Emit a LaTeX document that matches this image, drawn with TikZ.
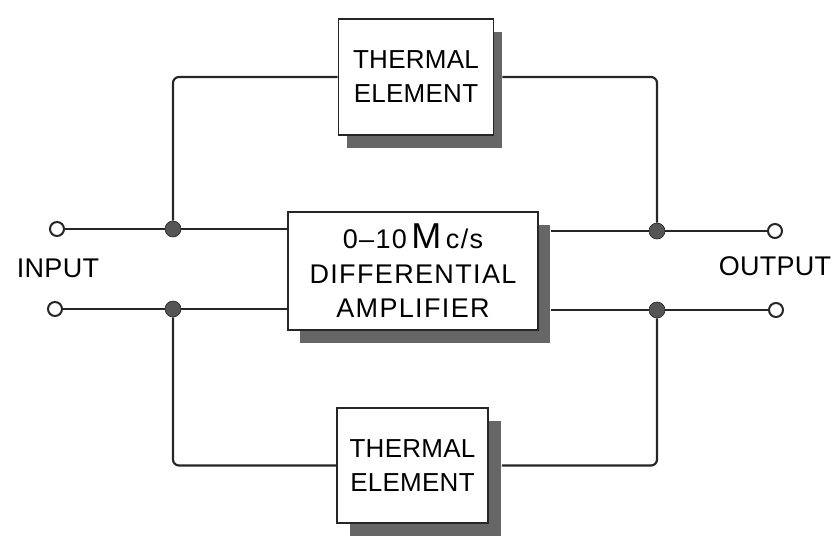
\documentclass[tikz,border=0pt]{standalone}
\usepackage{xcolor}
\usepackage{fontspec}
\setmainfont{Liberation Sans}
\usetikzlibrary{shadows}
\definecolor{WireInk}{HTML}{262626}
\definecolor{ShadeGrey}{HTML}{666666}
\definecolor{DotGrey}{HTML}{555555}
\tikzset{
  blockbox/.style={
    draw=WireInk,
    fill=white,
    line width=1.6pt,
    align=center,
    inner sep=0pt,
    font=\fontsize{26}{34}\selectfont\addfontfeature{LetterSpace=1},
    drop shadow={shadow xshift=#1,shadow yshift=-13pt,fill=ShadeGrey,opacity=1}
  },
  blockbox/.default=12pt,
  terminal/.style={circle,draw=WireInk,fill=white,line width=2pt,inner sep=0pt,minimum size=14pt},
  junction/.style={circle,draw=WireInk,fill=DotGrey,line width=0.6pt,inner sep=0pt,minimum size=16pt},
  wire/.style={draw=WireInk,line width=2.2pt},
  portlabel/.style={font=\fontsize{27}{30}\selectfont\addfontfeature{LetterSpace=1}}
}

\begin{document}
\begin{tikzpicture}[x=1pt,y=-1pt]
    \useasboundingbox (0,0) rectangle (833,538);

    % blocks
    \node[blockbox=8pt,minimum width=155pt,minimum height=116pt] (thermalTop) at (416,77) {THERMAL\\ELEMENT};
    \node[blockbox,minimum width=250pt,minimum height=118pt,
      font=\fontsize{27}{34.5}\selectfont\addfontfeature{LetterSpace=5}] (amplifier) at (413,271)
      {0--10\,{\fontsize{36}{34.5}\selectfont M}\,c/s\\DIFFERENTIAL\\AMPLIFIER};
    \node[blockbox=13pt,minimum width=151pt,minimum height=115pt] (thermalBot) at (412.5,465.5) {THERMAL\\ELEMENT};

    % terminals and junctions
    \node[terminal] (inA) at (57,229) {};
    \node[terminal] (inB) at (55,309) {};
    \node[terminal] (outA) at (775,231) {};
    \node[terminal] (outB) at (776,310) {};
    \node[junction] (jinA) at (173,229) {};
    \node[junction] (jinB) at (173,309) {};
    \node[junction] (joutA) at (657,231) {};
    \node[junction] (joutB) at (657,310) {};

    % wires
    \draw[wire] (inA) -- (jinA);
    \draw[wire] (inB) -- (jinB);
    \draw[wire] (jinA) -- (jinA -| amplifier.west);
    \draw[wire] (jinB) -- (jinB -| amplifier.west);
    \draw[wire] ([xshift=12pt]joutA -| amplifier.east) -- (joutA);
    \draw[wire] ([xshift=12pt]joutB -| amplifier.east) -- (joutB);
    \draw[wire] (joutA) -- (outA);
    \draw[wire] (joutB) -- (outB);
    \draw[wire,rounded corners=6pt] (jinA) |- (thermalTop.west);
    \draw[wire,rounded corners=6pt] ([xshift=8pt]thermalTop.east) -| (joutA);
    \draw[wire,rounded corners=6pt] (jinB) |- (thermalBot.west);
    \draw[wire,rounded corners=6pt] ([xshift=13pt]thermalBot.east) -| (joutB);

    % labels
    \node[portlabel] (inLabel) at (58,268) {INPUT};
    \node[portlabel] (outLabel) at (775,266) {OUTPUT};
  \end{tikzpicture}
\end{document}
